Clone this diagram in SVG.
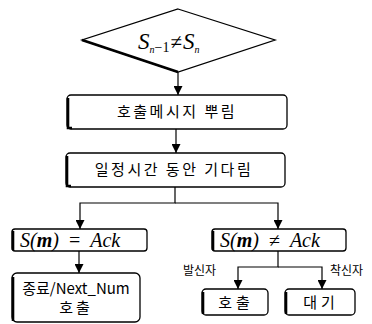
<svg xmlns="http://www.w3.org/2000/svg" width="372" height="324" viewBox="0 0 372 324">
<style>
.box{fill:#fff;stroke:#000;stroke-width:1.3}
.edge{fill:none;stroke:#000;stroke-width:2.6}
.ln{fill:none;stroke:#000;stroke-width:1.2}
.kr{font-family:"Noto Sans CJK KR","Noto Sans",sans-serif;font-size:15px;fill:#000;text-anchor:middle}
.krs{font-family:"Noto Sans CJK KR","Noto Sans",sans-serif;font-size:12px;fill:#000}
.m{font-family:"Liberation Serif",serif;font-style:italic;fill:#000}
</style>
<defs>
<marker id="ah" viewBox="0 0 10 10" refX="10" refY="5" markerWidth="9" markerHeight="9" markerUnits="userSpaceOnUse" orient="auto">
<path d="M0,0 L10,5 L0,10 z" fill="#000"/>
</marker>
</defs>
<g id="connectors">
<line class="ln" x1="178" y1="72" x2="178" y2="95" marker-end="url(#ah)"/>
<line class="ln" x1="176" y1="129" x2="176" y2="153" marker-end="url(#ah)"/>
<polyline class="ln" points="175,187 175,203 80,203 80,229" marker-end="url(#ah)"/>
<polyline class="ln" points="175,203 278,203 278,229" marker-end="url(#ah)"/>
<line class="ln" x1="79" y1="251" x2="79" y2="273" marker-end="url(#ah)"/>
<polyline class="ln" points="278,251 278,267 238,267 238,289" marker-end="url(#ah)"/>
<polyline class="ln" points="278,267 322,267 322,289" marker-end="url(#ah)"/>
</g>
<g id="n_diamond">
<polygon class="box" points="178,9 275,40 178,72 82,40"/>
<path class="edge" d="M82,40 L178,72"/>
<text class="m" x="138" y="49" font-size="23">S<tspan font-size="10" dy="4">n</tspan><tspan font-size="14" font-style="normal" dy="-1">−1</tspan><tspan font-size="21" font-style="normal" dy="-3" dx="1">≠</tspan><tspan dx="1">S</tspan><tspan font-size="10" dy="4">n</tspan></text>
</g>
<g id="n_broadcast">
<rect class="box" x="67" y="95" width="220" height="34" rx="4"/>
<path class="edge" d="M68,98 L68,128 L72,128"/>
<text class="kr" x="177" y="117" letter-spacing="2.5">호출메시지 뿌림</text>
</g>
<g id="n_wait">
<rect class="box" x="66" y="153" width="219" height="34" rx="4"/>
<path class="edge" d="M67,156 L67,186 L71,186"/>
<text class="kr" x="174" y="175" letter-spacing="2.5">일정시간 동안 기다림</text>
</g>
<g id="n_ack_eq">
<rect class="box" x="12" y="229" width="135" height="22" rx="3"/>
<path class="edge" d="M13,231 L13,250"/>
<text class="m" x="20" y="247" font-size="20">S(<tspan font-weight="bold">m</tspan>)<tspan dx="10" font-style="normal">=</tspan><tspan dx="10">Ack</tspan></text>
</g>
<g id="n_ack_ne">
<rect class="box" x="212" y="229" width="134" height="22" rx="3"/>
<path class="edge" d="M213,231 L213,250"/>
<text class="m" x="220" y="247" font-size="20">S(<tspan font-weight="bold">m</tspan>)<tspan dx="10" font-style="normal">≠</tspan><tspan dx="10">Ack</tspan></text>
</g>
<g id="n_end">
<rect class="box" x="12" y="273" width="128" height="49" rx="5"/>
<path class="edge" d="M13,277 L13,321"/>
<text class="kr" x="76" y="294" font-size="12">종료/Next_Num</text>
<text class="kr" x="76" y="313" font-size="12" letter-spacing="3">호출</text>
</g>
<g id="n_call">
<rect class="box" x="202" y="289" width="66" height="26" rx="4"/>
<path class="edge" d="M203,292 L203,314"/>
<text class="kr" x="236" y="308" letter-spacing="4">호출</text>
</g>
<g id="n_standby">
<rect class="box" x="285" y="289" width="70" height="26" rx="4"/>
<path class="edge" d="M286,292 L286,314"/>
<text class="kr" x="321" y="308" letter-spacing="4">대기</text>
</g>
<text class="krs" x="183" y="275">발신자</text>
<text class="krs" x="330" y="275">착신자</text>
</svg>
